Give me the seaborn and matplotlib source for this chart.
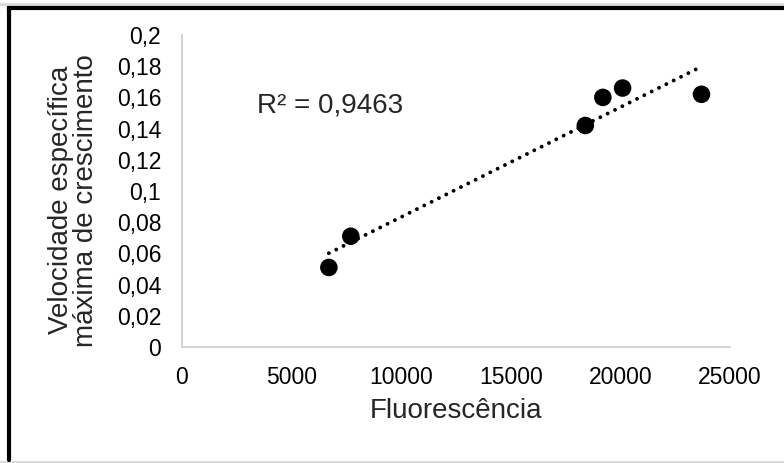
import numpy as np
import pandas as pd
import matplotlib
matplotlib.use("Agg")
import matplotlib.pyplot as plt
import seaborn as sns
from matplotlib.lines import Line2D
from matplotlib.ticker import FuncFormatter

# Dati
fluorescencia = [6700, 7700, 18400, 19200, 20100, 23700]
velocidade = [0.051, 0.071, 0.142, 0.160, 0.166, 0.162]
x_ticks = [0, 5000, 10000, 15000, 20000, 25000]
y_ticks = [0, 0.02, 0.04, 0.06, 0.08, 0.1, 0.12, 0.14, 0.16, 0.18, 0.2]
r2_text = "R² = 0,9463"

sns.set_style("white")
plt.rcParams['font.family'] = ['Liberation Sans', 'DejaVu Sans']

df = pd.DataFrame({'Fluorescência': fluorescencia, 'Velocidade': velocidade})

fig = plt.figure(figsize=(7.84, 4.63), dpi=100)
ax = fig.add_axes([182 / 784, 1 - 347 / 463, 548 / 784, 312 / 463])

sns.regplot(
    data=df, x='Fluorescência', y='Velocidade', ax=ax, ci=None,
    scatter_kws=dict(s=160, color='black', edgecolor='none', zorder=3, alpha=1),
    line_kws=dict(color='black', linewidth=2.8, linestyle=(0, (0.01, 2.1)),
                  dash_capstyle='round', zorder=2),
)

ax.set_xlim(0, 25000)
ax.set_ylim(0, 0.2)
ax.set_xticks(x_ticks)
ax.set_yticks(y_ticks)
ax.yaxis.set_major_formatter(FuncFormatter(lambda v, p: f"{v:g}".replace('.', ',')))
ax.tick_params(axis='both', length=0, labelsize=16.5, colors='black')
ax.tick_params(axis='y', pad=15)
ax.tick_params(axis='x', pad=14)

for s in ['top', 'right']:
    ax.spines[s].set_visible(False)
for s in ['left', 'bottom']:
    ax.spines[s].set_color('#d0d0d0')
    ax.spines[s].set_linewidth(1.3)

ax.set_xlabel('Fluorescência', fontsize=20, labelpad=6)
ax.set_ylabel('Velocidade específica\nmáxima de crescimento', fontsize=20,
              labelpad=13, linespacing=0.95)
ax.yaxis.label.set_y(0.47)

ax.text(3420, 0.1545, r2_text, fontsize=20, va='center', ha='left')

# Cornice
fig.add_artist(Line2D([0, 1], [1 - 4 / 463, 1 - 4 / 463], transform=fig.transFigure,
                      color='#d9d9d9', linewidth=2))
fig.add_artist(Line2D([0, 1], [1 - 461.5 / 463, 1 - 461.5 / 463], transform=fig.transFigure,
                      color='#d9d9d9', linewidth=2))
fig.add_artist(Line2D([9 / 784, 1], [1 - 8 / 463, 1 - 8 / 463], transform=fig.transFigure,
                      color='black', linewidth=3, solid_capstyle='projecting'))
fig.add_artist(Line2D([9 / 784, 9 / 784], [1 - 8 / 463, 1 - 460 / 463], transform=fig.transFigure,
                      color='black', linewidth=3))

fig.savefig('out.png', dpi=100)
